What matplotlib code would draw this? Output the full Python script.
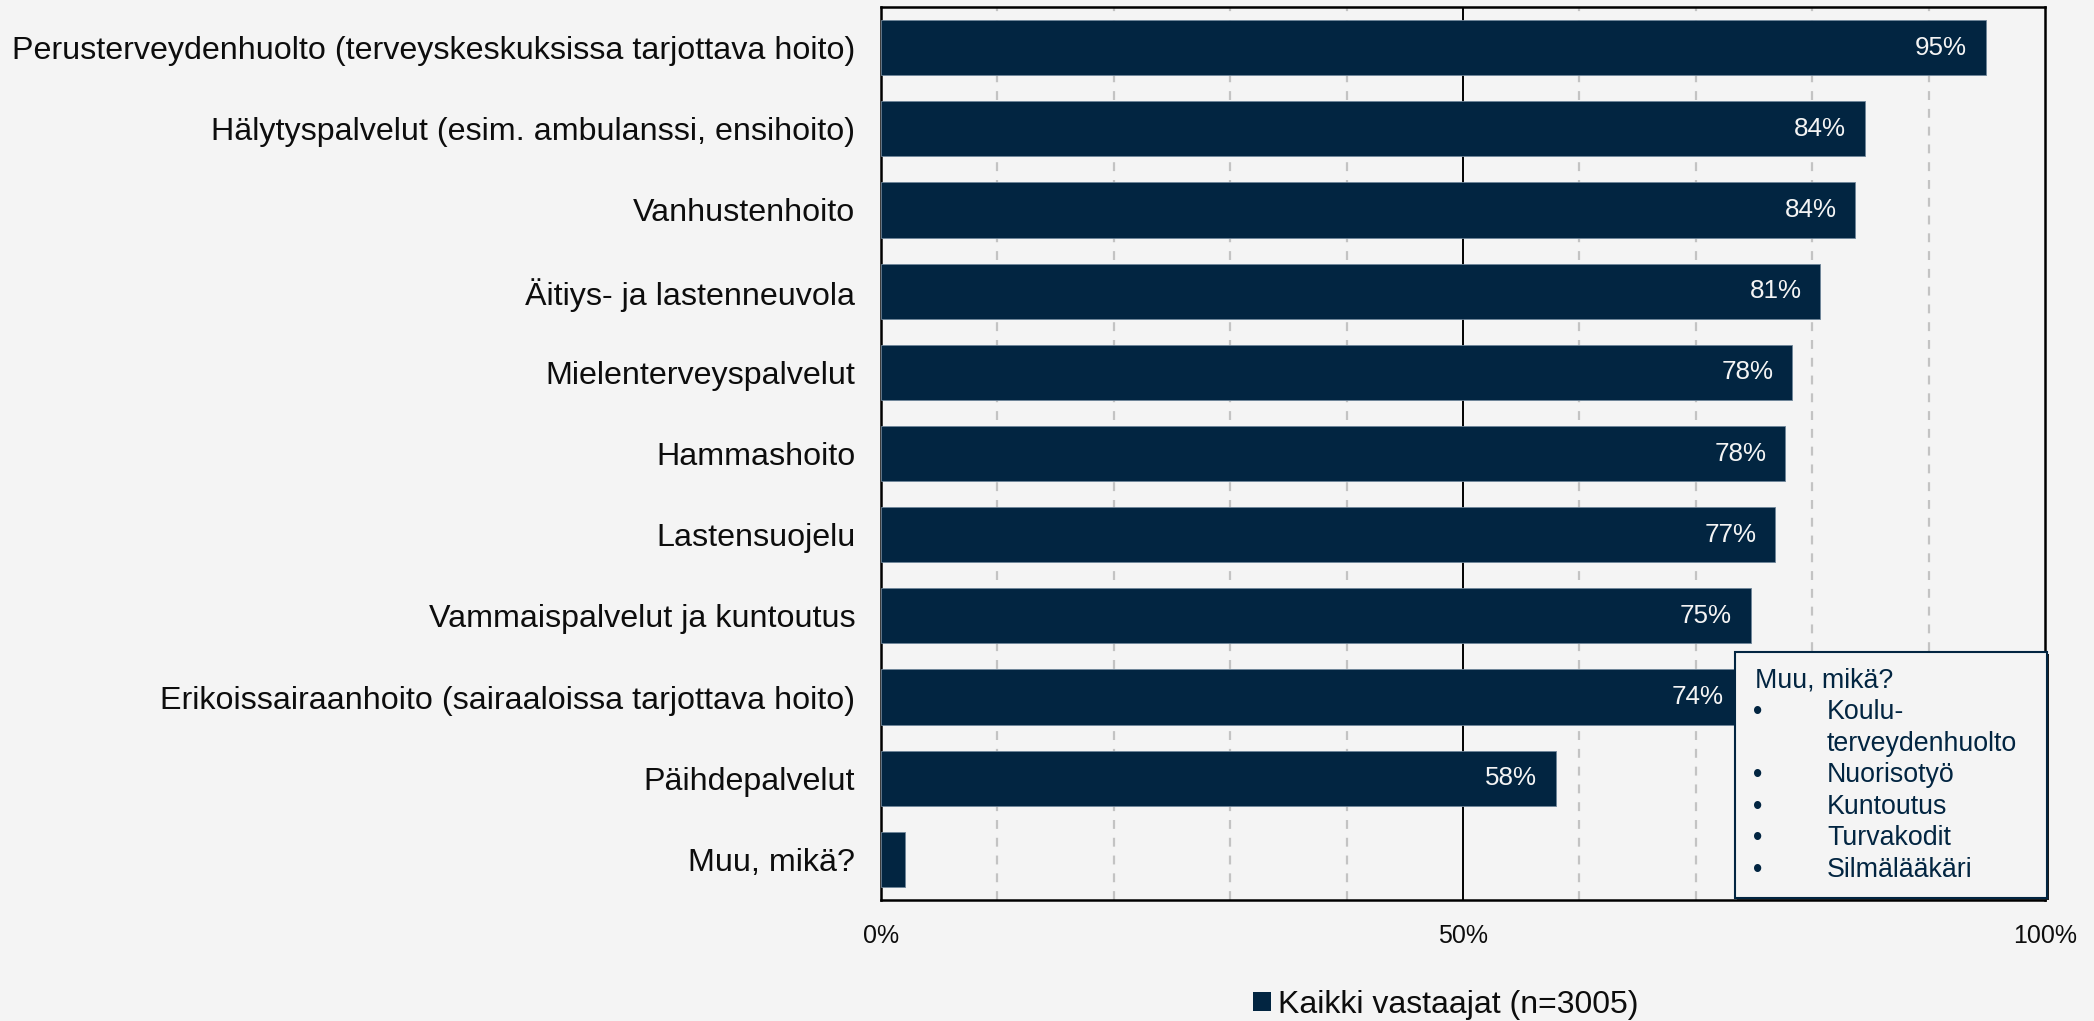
import matplotlib as mpl
import matplotlib.pyplot as plt
from matplotlib.patches import Patch, Rectangle


mpl.rcParams.update(
    {
        "font.family": ["Liberation Sans", "DejaVu Sans"],
        "figure.facecolor": "#F4F4F4",
        "savefig.facecolor": "#F4F4F4",
    }
)

COL = {
    "bar": "#022541",
    "edge": "#6F8599",
    "bg": "#F4F4F4",
    "grid": "#C3C3C3",
    "ink": "#0D0D0D",
    "label": "#F4F4F4",
}

categories = [
    "Perusterveydenhuolto (terveyskeskuksissa tarjottava hoito)",
    "Hälytyspalvelut (esim. ambulanssi, ensihoito)",
    "Vanhustenhoito",
    "Äitiys- ja lastenneuvola",
    "Mielenterveyspalvelut",
    "Hammashoito",
    "Lastensuojelu",
    "Vammaispalvelut ja kuntoutus",
    "Erikoissairaanhoito (sairaaloissa tarjottava hoito)",
    "Päihdepalvelut",
    "Muu, mikä?",
]
values = [94.9, 84.5, 83.7, 80.7, 78.3, 77.7, 76.8, 74.7, 74.0, 58.0, 2.1]
value_labels = ["95%", "84%", "84%", "81%", "78%", "78%", "77%", "75%", "74%", "58%", ""]
series_name = "Kaikki vastaajat (n=3005)"
other_title = "Muu, mikä?"
other_items = [("•", "Koulu-"), ("", "terveydenhuolto"), ("•", "Nuorisotyö"),
               ("•", "Kuntoutus"), ("•", "Turvakodit"), ("•", "Silmälääkäri")]

W, H = 2094, 1021


def px(x, y):
    return x / W, 1 - y / H


fig = plt.figure(figsize=(W / 100, H / 100), dpi=100)
ax = fig.add_axes([881 / W, 1 - 900 / H, (2045 - 881) / W, (900 - 7) / H])
ax.set_facecolor(COL["bg"])

ypos = list(range(len(categories)))
bars = ax.barh(ypos, values, height=0.68, color=COL["bar"], edgecolor=COL["edge"], linewidth=0.6, zorder=3)
for rect, lab in zip(bars, value_labels):
    if not lab:
        continue
    ax.annotate(
        lab,
        xy=(rect.get_width(), rect.get_y() + rect.get_height() / 2),
        xytext=(-13.5, 0),
        textcoords="offset points",
        ha="right",
        va="center",
        fontsize=18.7,
        color=COL["label"],
        zorder=4,
    )

ax.set_xlim(0, 100)
ax.set_ylim(len(categories) - 0.5, -0.5)
for g in [10, 20, 30, 40, 60, 70, 80, 90]:
    ax.axvline(g, color=COL["grid"], linewidth=1.6, linestyle=(0, (4, 4)), zorder=1)
ax.axvline(50, color="black", linewidth=1.4, zorder=2)

ax.set_yticks(ypos)
ax.set_yticklabels(categories, fontsize=23.2, color=COL["ink"])
ax.set_xticks([0, 50, 100])
ax.set_xticklabels(["0%", "50%", "100%"], fontsize=18, color=COL["ink"])
ax.tick_params(axis="y", length=0, pad=18.5)
ax.tick_params(axis="x", length=0, pad=17)
for spine in ax.spines.values():
    spine.set_linewidth(1.8)
    spine.set_color("black")

# "Muu, mikä?" text box
x0, y0 = px(1735, 898)
x1, y1 = px(2047, 652)
fig.add_artist(
    Rectangle(
        (x0 + 2 / W, y0 - 2 / H), x1 - x0, y1 - y0,
        transform=fig.transFigure, facecolor="#1A1A1A", edgecolor="none", zorder=9,
    )
)
fig.add_artist(
    Rectangle(
        (x0, y0), x1 - x0, y1 - y0,
        transform=fig.transFigure, facecolor=COL["bg"], edgecolor=COL["bar"], linewidth=1.5, zorder=10,
    )
)
fig.text(*px(1755, 680), other_title, fontsize=19.3, color=COL["bar"], va="center", ha="left", zorder=11)
for i, (bullet, item) in enumerate(other_items):
    ly = 712 + i * 31.6
    if bullet:
        fig.text(*px(1753, ly), bullet, fontsize=19.3, color=COL["bar"], va="center", ha="left", zorder=11)
    fig.text(*px(1827, ly), item, fontsize=19.3, color=COL["bar"], va="center", ha="left", zorder=11)

fig.legend(
    handles=[Patch(facecolor=COL["bar"], edgecolor="none", label=series_name)],
    loc="center",
    bbox_to_anchor=px(1446, 1005),
    frameon=False,
    fontsize=23,
    handlelength=0.56,
    handleheight=0.56,
    handletextpad=0.22,
    labelcolor=COL["ink"],
)

fig.savefig("out.png", dpi=100)
